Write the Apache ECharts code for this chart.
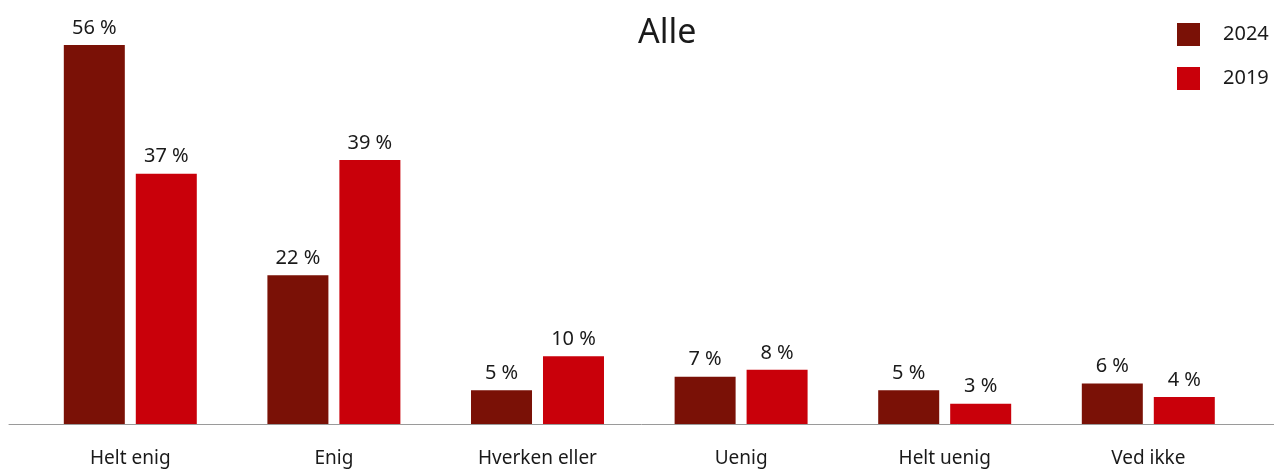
<!DOCTYPE html>
<html>
<head>
<meta charset="utf-8">
<script src="https://cdn.jsdelivr.net/npm/echarts@6/dist/echarts.min.js"></script>
<style>
  html, body { margin: 0; padding: 0; background: #fff; }
  #chart { width: 1274px; height: 469px; }
</style>
</head>
<body>
<div id="chart"></div>
<script>
// Svar-kategorier og andeler (%)
const categories = ['Helt enig', 'Enig', 'Hverken eller', 'Uenig', 'Helt uenig', 'Ved ikke'];
const values2024 = [56, 22, 5, 7, 5, 6];
const values2019 = [37, 39, 10, 8, 3, 4];
const seriesNames = ['2024', '2019'];

const FONT = '"Noto Sans", sans-serif';
const TEXT = '#1a1a1a';

const barLabel = {
  show: true,
  position: 'top',
  distance: 7,
  formatter: '{c} %',
  fontFamily: FONT,
  fontSize: 20,
  color: TEXT
};

const chart = echarts.init(document.getElementById('chart'), null, { renderer: 'canvas' });
chart.setOption({
  animation: false,
  backgroundColor: '#fff',
  title: {
    text: 'Alle',
    left: 638,
    top: 16,
    padding: 0,
    textStyle: { fontFamily: FONT, fontSize: 34, fontWeight: 'normal', color: TEXT }
  },
  legend: {
    orient: 'vertical',
    left: 1177,
    top: 23,
    padding: 0,
    itemWidth: 23,
    itemHeight: 23,
    itemGap: 21,
    icon: 'rect',
    data: seriesNames,
    textStyle: { fontFamily: FONT, fontSize: 20, color: TEXT, padding: [0, 0, 0, 18] }
  },
  grid: [
    { left: 28.5, width: 1221.6, top: 18, bottom: 45, containLabel: false },
    { left: 9, right: 0, top: 18, bottom: 45, containLabel: false }
  ],
  xAxis: [
    {
      type: 'category',
      gridIndex: 0,
      data: categories,
      axisLine: { show: false },
      axisTick: { show: false },
      axisLabel: { fontFamily: FONT, fontSize: 19, color: TEXT, margin: 25 }
    },
    {
      // baseline spanning the full width
      type: 'value',
      gridIndex: 1,
      min: 0,
      max: 1,
      axisLine: { show: true, lineStyle: { color: '#9a9a9a', width: 1 } },
      axisTick: { show: false },
      axisLabel: { show: false },
      splitLine: { show: false }
    }
  ],
  yAxis: [
    { type: 'value', gridIndex: 0, min: 0, max: 60, show: false },
    { type: 'value', gridIndex: 1, min: 0, max: 1, show: false }
  ],
  series: [
    {
      name: seriesNames[0],
      type: 'bar',
      xAxisIndex: 0,
      yAxisIndex: 0,
      data: values2024,
      barWidth: 61,
      barGap: '18%',
      itemStyle: { color: '#7a1106' },
      label: barLabel
    },
    {
      name: seriesNames[1],
      type: 'bar',
      xAxisIndex: 0,
      yAxisIndex: 0,
      data: values2019,
      barWidth: 61,
      barGap: '18%',
      itemStyle: { color: '#c9000a' },
      label: barLabel
    }
  ]
});
</script>
</body>
</html>
